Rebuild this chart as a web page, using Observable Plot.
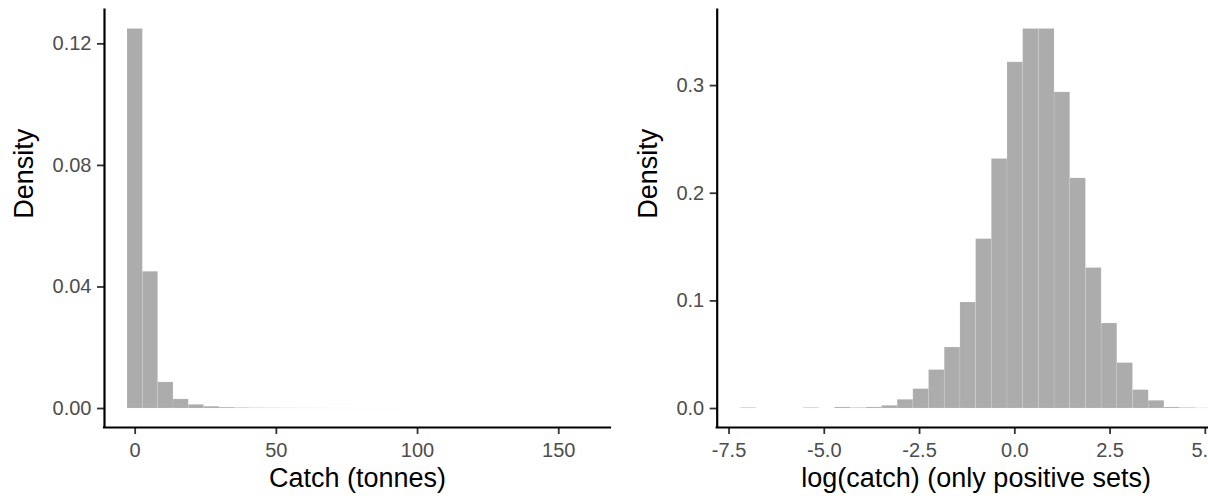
<!DOCTYPE html>
<html><head><meta charset="utf-8">
<script src="https://cdn.jsdelivr.net/npm/d3@7"></script>
<script src="https://cdn.jsdelivr.net/npm/@observablehq/plot@0.6"></script>
<style>
html,body{margin:0;padding:0;background:#fff;overflow:hidden;width:1208px;height:501px;}
#wrap{display:flex;width:1248px;height:501px;}
svg{display:block;flex:none;}
</style></head><body><div id="wrap"></div>
<script>
// Left panel: histogram of catch (tonnes), 30 bins
const catchBinStart = -2.715;
const catchBinWidth = 5.43;
const catchDensity = [0.1249, 0.0450, 0.0086, 0.0030, 0.0012, 0.0006, 0.0003, 0.00018, 0.00012, 0.00008,
  0.00006, 0.00004, 0.00003, 0.00002, 0.00002, 0.00001, 0.00001, 0.00001, 0.000005, 0.000005,
  0.000004, 0.000003, 0.000003, 0.000002, 0.000002, 0.000002, 0.000001, 0.000001, 0.000001, 0.000001];
const catchTicks = [0, 50, 100, 150];
const catchDensityTicks = [0, 0.04, 0.08, 0.12];

// Right panel: histogram of log(catch) for positive sets, 30 bins
const logBinStart = -7.193;
const logBinWidth = 0.4118;
const logDensity = [0.0005, 0, 0, 0, 0.0005, 0, 0.001, 0.0005, 0.001, 0.0025,
  0.0081, 0.018, 0.0357, 0.0567, 0.0985, 0.1574, 0.2318, 0.3216, 0.3526, 0.3526,
  0.2937, 0.2138, 0.1305, 0.079, 0.0422, 0.0171, 0.0072, 0.001, 0.0005, 0.0002];
const logTicks = [-7.5, -5, -2.5, 0, 2.5, 5];
const logDensityTicks = [0, 0.1, 0.2, 0.3];

const xTitles = ["Catch (tonnes)", "log(catch) (only positive sets)"];
const yTitle = "Density";

const FONT = "'Liberation Sans', Arial, Helvetica, sans-serif";
const fmt = (spec) => { const f = d3.format(spec); return (d) => f(d).replace("\u2212", "-"); };

function panel({start, width, dens, xTicks, xFmt, yTicks, yFmt, xTitle, marginLeft, marginRight}) {
  const bins = dens.map((d, i) => ({x1: start + i * width, x2: start + (i + 1) * width, d}));
  const n = dens.length;
  const span = n * width;
  const xDomain = [start - 0.05 * span, start + span + 0.05 * span];
  const ymax = d3.max(dens);
  const yDomain = [-0.05 * ymax, ymax * 1.05];
  return Plot.plot({
    width: 624, height: 501,
    marginLeft, marginRight, marginTop: 9.5, marginBottom: 74,
    style: {fontFamily: FONT, background: "white", overflow: "visible"},
    x: {domain: xDomain},
    y: {domain: yDomain},
    marks: [
      Plot.rectY(bins, {x1: "x1", x2: "x2", y1: 0, y2: "d", fill: "#acacac", stroke: "#ffffff", strokeOpacity: 0.2, strokeWidth: 0.6, inset: 0}),
      Plot.axisX({ticks: xTicks, tickFormat: xFmt, tickSize: 7, tickPadding: 8, fontSize: 20, stroke: "#333333", fill: "#4d4d4d", strokeWidth: 1.8, label: null}),
      Plot.axisY({ticks: yTicks, tickFormat: yFmt, tickSize: 7, tickPadding: 6, fontSize: 20, stroke: "#333333", fill: "#4d4d4d", strokeWidth: 1.8, label: null}),
      Plot.ruleX([xDomain[0]], {stroke: "black", strokeWidth: 2.2, strokeLinecap: "square"}),
      Plot.ruleY([yDomain[0]], {stroke: "black", strokeWidth: 2.2, strokeLinecap: "square"}),
      Plot.text([xTitle], {frameAnchor: "bottom", dy: 59, fontSize: 27, fill: "black"}),
      Plot.text([yTitle], {frameAnchor: "left", rotate: -90, dx: -(marginLeft - 24), fontSize: 27, fill: "black"})
    ]
  });
}

const wrap = document.getElementById("wrap");
wrap.append(panel({start: catchBinStart, width: catchBinWidth, dens: catchDensity,
  xTicks: catchTicks, xFmt: fmt("d"), yTicks: catchDensityTicks, yFmt: fmt(".2f"),
  xTitle: xTitles[0], marginLeft: 104, marginRight: 14}));
wrap.append(panel({start: logBinStart, width: logBinWidth, dens: logDensity,
  xTicks: logTicks, xFmt: fmt(".1f"), yTicks: logDensityTicks, yFmt: fmt(".1f"),
  xTitle: xTitles[1], marginLeft: 92.7, marginRight: 13.5}));
</script></body></html>
